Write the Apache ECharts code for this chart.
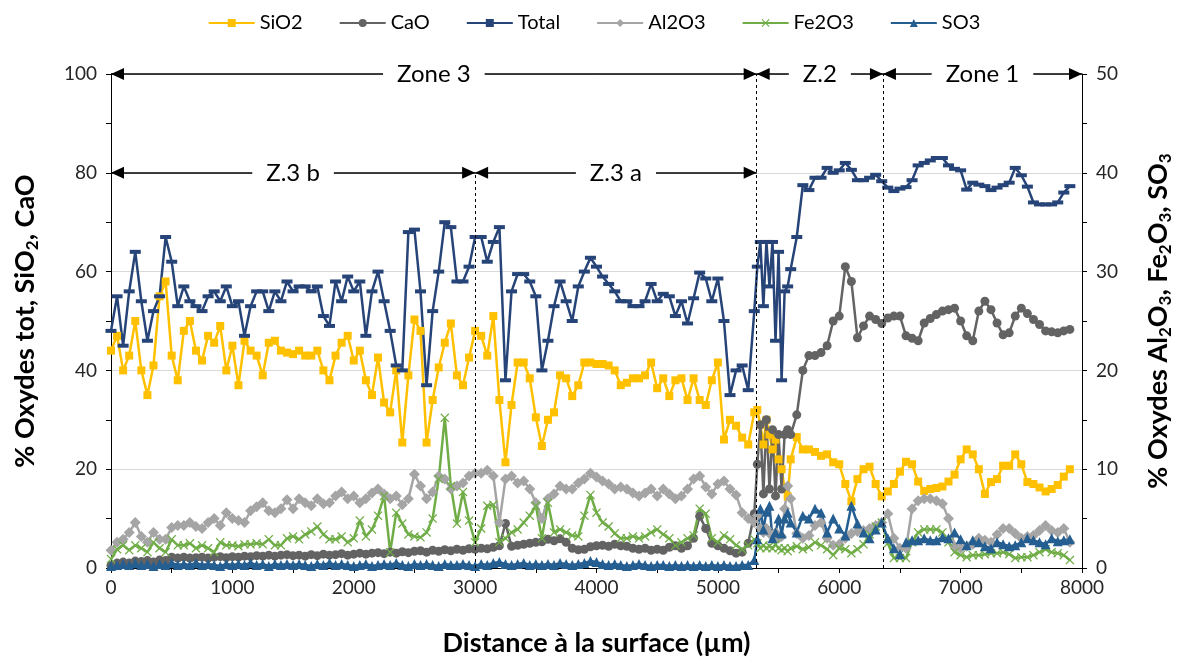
<!DOCTYPE html>
<html lang="fr">
<head>
  <meta charset="UTF-8">
  <title>Profil des oxydes</title>
  <script src="https://cdn.jsdelivr.net/npm/echarts@6/dist/echarts.min.js"></script>
  <style>
    html, body { margin: 0; padding: 0; background: #fff; }
    #chart { width: 1188px; height: 662px; }
  </style>
</head>
<body>
  <div id="chart"></div>
  <script>
    // distance à la surface (µm) : zone 3, puis zone 2, puis zone 1
    var dist = [
      0, 50, 100, 150, 200, 250, 300, 350, 400, 450, 500,
      550, 600, 650, 700, 750, 800, 850, 900, 950, 1000,
      1050, 1100, 1150, 1200, 1250, 1300, 1350, 1400, 1450, 1500,
      1550, 1600, 1650, 1700, 1750, 1800, 1850, 1900, 1950, 2000,
      2050, 2100, 2150, 2200, 2250, 2300, 2350, 2400, 2450, 2500,
      2550, 2600, 2650, 2700, 2750, 2800, 2850, 2900, 2950, 3000,
      3050, 3100, 3150, 3200, 3250, 3300, 3350, 3400, 3450, 3500,
      3550, 3600, 3650, 3700, 3750, 3800, 3850, 3900, 3950, 4000,
      4050, 4100, 4150, 4200, 4250, 4300, 4350, 4400, 4450, 4500,
      4550, 4600, 4650, 4700, 4750, 4800, 4850, 4900, 4950, 5000,
      5050, 5100, 5150, 5200, 5250, 5300,
      5325, 5350, 5375, 5400, 5425, 5450, 5475, 5500, 5525, 5550, 5575, 5600, 5650, 5700,
      5750, 5800, 5850, 5900, 5950, 6000, 6050, 6100, 6150, 6200, 6250, 6300, 6350,
      6400, 6450, 6500, 6550, 6600, 6650, 6700, 6750, 6800, 6850, 6900, 6950, 7000, 7050, 7100, 7150,
      7200, 7250, 7300, 7350, 7400, 7450, 7500, 7550, 7600, 7650, 7700, 7750, 7800, 7850, 7900
    ];

    // axe de gauche (%)
    var sio2 = [
      44, 47, 40, 43, 50, 40, 35, 41, 55, 58, 43,
      38, 48, 50, 44, 42, 47, 45.6, 49, 40, 45,
      37, 46, 44, 43, 39, 45.6, 46, 44, 43.6, 43.3,
      44, 43, 43, 44, 40, 38, 43, 45.6, 47, 42,
      44, 38, 35, 42.6, 33.5, 31.5, 40, 25.4, 39, 50.3,
      48, 25.4, 34, 40.6, 45.6, 49.5, 39, 37, 42.6, 48,
      47, 43, 51, 34, 21.4, 33, 41.6, 41.6, 38.4, 30.5,
      24.7, 30, 31.5, 39, 38.4, 34.8, 37, 41.6, 41.6, 41.3,
      41.3, 41, 40, 37, 37.5, 38.4, 38.4, 39, 41.6, 36.4,
      38.4, 34.8, 38, 38.4, 34, 38.4, 34, 33, 38, 41.6,
      26, 30, 28.8, 26.4, 25, 31.5,
      32, 29, 25, 30, 27, 24, 26, 22, 20, 16, 14.5, 22, 26.5, 24,
      24, 23.5, 22.7, 23, 21.4, 21, 17, 13.5, 18, 20, 20.5, 17, 14.5,
      15.5, 17, 19.5, 21.5, 21, 17.5, 15.6, 16, 16.2, 16.5, 17.5, 18.9, 22, 24, 23, 20,
      15, 17.4, 18, 20.7, 20.7, 23, 21, 17.4, 17, 16.3, 15.5, 16, 16.8, 18.5, 20
    ];
    var cao = [
      0.5, 1.0, 1.2, 1.0, 1.4, 1.3, 1.5, 1.2, 1.6, 1.5, 2.2,
      2.0, 2.2, 2.0, 2.1, 2.2, 2.0, 2.2, 2.3, 2.1, 2.3,
      2.2, 2.4, 2.3, 2.5, 2.4, 2.6, 2.4, 2.6, 2.7, 2.5,
      2.6, 2.4, 2.7, 2.5, 2.8, 2.6, 2.7, 2.9, 2.6, 2.8,
      3.0, 2.8, 3.0, 3.1, 2.9, 3.2, 3.0, 3.3, 3.1, 3.4,
      3.5, 3.2, 3.6, 3.4, 3.7, 3.5, 3.8, 3.6, 3.9, 3.8,
      4.0, 3.9, 4.2, 4.5, 9.0, 4.4, 4.6, 4.8, 5.0, 5.2,
      5.3, 5.8, 5.5, 5.9, 5.2, 4.0, 3.7, 3.8, 4.3, 4.5,
      4.6, 4.4, 4.8, 4.5, 4.4, 4.0, 3.8, 4.0, 3.6, 3.8,
      3.6, 4.2, 4.5, 4.0, 4.5, 6.0, 10.5, 8.0, 5.0, 4.5,
      4.0, 3.5, 3.0, 3.2, 5.0, 11.0,
      21, 29, 15, 30, 16, 28, 14.6, 27, 16, 27, 28, 27, 31, 40,
      43, 43, 43.6, 45, 50, 51, 61, 58, 46.6, 49, 51, 50.3, 49.5,
      50.6, 51, 51, 47, 46.5, 46, 49.6, 50.5, 51.3, 52, 52.3, 52.6, 50, 47, 46, 52,
      54, 52.3, 49.6, 47.2, 47.6, 51, 52.6, 51.5, 50.3, 49.3, 48, 47.8, 47.6, 48, 48.3
    ];
    var total = [
      48, 55, 45, 56, 64, 54, 46, 52, 55, 67, 62,
      53, 57, 54, 53, 52, 55, 56, 54, 57, 53,
      54, 47, 53, 56, 56, 52, 56, 54, 58, 56,
      57, 57, 56, 57, 51, 49, 58, 54, 59, 56,
      58, 47, 56, 60, 54, 48, 41, 40, 68, 68.5,
      56, 37, 52, 60, 70, 69, 58, 58, 61, 67,
      67, 62, 66, 69, 38, 56, 59.5, 59.5, 58, 55,
      40, 46, 53, 58, 54, 50, 57, 60, 62.8, 61,
      59, 57.5, 56, 54, 54, 53, 53, 54, 57.5, 54,
      55.5, 55, 51, 54, 49.5, 54.6, 59.8, 58.6, 54, 58.6,
      50, 35, 40, 41, 36, 52,
      61, 66, 53, 66, 57, 66, 46, 64, 38, 56, 57, 60.5, 67, 77.5,
      76.5, 79, 79, 81, 80, 80.5, 82, 80.6, 78.5, 78.5, 79, 79.6, 78.3,
      77, 76.3, 76.8, 77.1, 78.5, 81.5, 82, 82.5, 83, 83, 81.5, 80.8, 80.5, 76.6, 78, 77.6,
      77.3, 76.5, 77, 77.5, 78, 81, 79.5, 77.2, 74, 73.6, 73.6, 73.6, 74, 76, 77.3
    ];

    // axe de droite (%)
    var al2o3 = [
      1.8, 2.6, 2.9, 3.6, 4.6, 3.2, 2.6, 3.6, 2.9, 2.9, 4.1,
      4.3, 4.3, 4.6, 4.2, 4.0, 4.6, 5.0, 4.3, 5.6, 5.0,
      4.8, 4.6, 5.8, 6.2, 6.6, 5.8, 5.6, 6.0, 6.9, 6.0,
      7.0, 6.6, 6.3, 7.0, 6.5, 6.6, 7.3, 7.7, 7.0, 7.3,
      6.6, 7.0, 7.6, 8.0, 7.5, 7.0, 7.3, 6.4, 7.0, 9.5,
      8.3, 7.0, 7.7, 9.3, 9.0, 8.0, 8.3, 8.6, 9.3, 9.6,
      9.6, 9.9, 9.3, 4.6, 9.0, 9.3, 8.6, 8.8, 8.0, 6.6,
      5.0, 7.0, 7.5, 8.3, 8.0, 8.0, 8.6, 9.0, 9.6, 9.2,
      8.8, 8.5, 8.0, 8.2, 8.0, 7.6, 7.3, 7.6, 8.0, 7.3,
      8.0, 7.5, 7.0, 7.3, 8.0, 9.0, 9.3, 8.2, 7.5, 8.5,
      8.8, 8.0, 7.4, 5.6, 5.0, 4.6,
      5.3, 4.0, 3.6, 4.0, 3.5, 3.3, 3.6, 3.0, 3.2, 6.0, 8.3, 7.0, 3.5, 3.0,
      3.3, 4.3, 4.6, 3.0, 2.3, 2.4, 3.0, 3.5, 3.7, 3.8, 4.0, 4.3, 4.6,
      5.5, 3.0, 2.0, 2.0, 6.0, 6.8, 7.0, 7.0, 6.8, 6.5, 5.0, 2.2, 2.0, 2.2, 2.4, 3.0,
      2.8, 2.6, 3.4, 4.0, 4.0, 3.5, 3.0, 3.2, 3.3, 3.8, 4.3, 3.8, 3.6, 4.0, 2.6
    ];
    var fe2o3 = [
      0.9, 1.9, 2.3, 1.8, 2.3, 2.0, 1.6, 2.6, 2.0, 1.6, 2.9,
      2.3, 2.3, 2.5, 2.0, 2.3, 2.0, 1.6, 2.6, 2.3, 2.3,
      2.2, 2.4, 2.4, 2.5, 2.4, 2.9, 2.3, 2.3, 3.0, 3.2,
      2.9, 3.4, 3.7, 4.2, 3.4, 2.9, 2.9, 3.2, 2.6, 3.0,
      4.8, 3.2, 3.9, 5.3, 7.3, 1.6, 5.6, 4.5, 3.4, 3.2,
      3.1, 3.6, 5.0, 9.0, 15.2, 8.3, 4.5, 7.7, 4.8, 2.6,
      4.0, 6.3, 6.4, 2.6, 3.0, 3.6, 3.9, 4.6, 5.3, 6.3,
      3.0, 6.6, 3.6, 3.9, 3.6, 3.3, 3.2, 5.3, 7.4, 5.6,
      4.6, 4.2, 3.5, 3.0, 3.0, 3.2, 3.0, 3.2, 3.6, 3.9,
      3.4, 3.0, 2.3, 2.6, 3.0, 3.3, 6.0, 5.5, 3.0, 2.6,
      3.3, 2.9, 2.3, 1.9, 2.3, 2.9,
      2.5, 2.0, 2.3, 2.0, 2.2, 2.0, 2.4, 2.0, 1.8, 2.0, 1.7, 2.0, 2.2, 1.9,
      2.1, 2.6, 2.3, 1.9, 1.3, 2.0, 1.9, 1.5, 1.9, 2.4, 3.4, 4.2, 4.6,
      2.5, 1.0, 1.0, 1.0, 2.6, 3.6, 3.9, 3.9, 3.9, 3.6, 2.6, 1.6, 1.3, 1.1, 1.3, 1.3,
      1.4, 1.5, 1.5, 1.6, 1.4, 1.0, 1.1, 1.1, 1.3, 1.6, 1.9, 1.6, 1.5, 1.3, 0.8
    ];
    var so3 = [
      0.2, 0.3, 0.4, 0.3, 0.5, 0.3, 0.4, 0.2, 0.4, 0.3, 0.5,
      0.3, 0.4, 0.3, 0.5, 0.3, 0.4, 0.3, 0.2, 0.4, 0.3,
      0.4, 0.3, 0.5, 0.3, 0.4, 0.2, 0.4, 0.3, 0.4, 0.3,
      0.4, 0.3, 0.2, 0.4, 0.3, 0.5, 0.3, 0.4, 0.3, 0.2,
      0.3, 0.4, 0.2, 0.3, 0.4, 0.3, 0.5, 0.3, 0.2, 0.4,
      0.3, 0.4, 0.3, 0.2, 0.4, 0.3, 0.3, 0.4, 0.3, 0.2,
      0.4, 0.3, 0.5, 0.6, 0.4, 0.3, 0.4, 0.5, 0.3, 0.4,
      0.3, 0.4, 0.3, 0.5, 0.4, 0.3, 0.4, 0.5, 0.7, 0.6,
      0.4, 0.3, 0.4, 0.3, 0.2, 0.3, 0.4, 0.3, 0.2, 0.3,
      0.3, 0.2, 0.3, 0.2, 0.3, 0.2, 0.3, 0.2, 0.3, 0.2,
      0.3, 0.2, 0.2, 0.3, 0.3, 0.8,
      2.9, 6.0, 3.9, 5.7, 6.3, 3.0, 3.6, 5.0, 3.5, 5.0, 5.6, 4.6, 3.6, 5.3,
      5.0, 6.0, 5.6, 3.6, 5.0, 4.0, 3.3, 6.3, 4.5, 3.6, 3.0, 3.9, 4.6,
      3.0, 2.0, 1.4, 2.6, 2.8, 2.8, 3.0, 2.8, 2.8, 3.1, 3.0, 3.6, 2.9, 2.3, 2.8, 2.6,
      2.2, 2.0, 2.6, 2.4, 2.2, 2.3, 2.6, 3.0, 2.8, 2.6, 2.4, 3.0, 2.7, 2.8, 2.9
    ];

    // zones : [début, fin, niveau, nom] et limites verticales [x, hauteur]
    var zoneArrows = [
      [0, 5320, 100, 'Zone 3'],
      [5320, 6360, 100, 'Z.2'],
      [6360, 8000, 100, 'Zone 1'],
      [0, 3000, 80, 'Z.3 b'],
      [3000, 5320, 80, 'Z.3 a']
    ];
    var zoneBorders = [[5320, 100], [6360, 100], [3000, 80]];

    var FONT = 'Lato, "Open Sans", sans-serif';
    var crossPath = 'path://M0,1 L1,0 L5,4 L9,0 L10,1 L6,5 L10,9 L9,10 L5,6 L1,10 L0,9 L4,5 Z';

    function pairs(vals) {
      return dist.map(function (d, i) { return [d, vals[i]]; });
    }

    function lineSeries(name, vals, axis, color, symbol, size) {
      return {
        name: name, type: 'line', yAxisIndex: axis,
        data: pairs(vals),
        symbol: symbol, symbolSize: size, showAllSymbol: true,
        lineStyle: { color: color, width: 2.5 },
        itemStyle: { color: color, borderWidth: 0 },
        emphasis: { disabled: true }
      };
    }

    var titleRich = {
      t: { fontSize: 27, fontWeight: 'bold', color: '#000', fontFamily: FONT, lineHeight: 32 },
      s: { fontSize: 17, fontWeight: 'bold', color: '#000', fontFamily: FONT, lineHeight: 17, verticalAlign: 'bottom' }
    };

    var chart = echarts.init(document.getElementById('chart'));
    chart.setOption({
      animation: false,
      backgroundColor: '#fff',
      textStyle: { fontFamily: FONT },
      legend: {
        top: 8, left: 'center',
        itemWidth: 46, itemHeight: 10, itemGap: 36,
        data: ['SiO2', 'CaO', 'Total', 'Al2O3', 'Fe2O3', 'SO3'],
        textStyle: { fontSize: 20, color: '#000', fontFamily: FONT }
      },
      grid: { left: 111, right: 106, top: 74, bottom: 93 },
      xAxis: {
        type: 'value', min: 0, max: 8000, interval: 1000,
        name: 'Distance à la surface (µm)', nameLocation: 'middle', nameGap: 62,
        nameTextStyle: { fontSize: 27, fontWeight: 'bold', color: '#000', fontFamily: FONT },
        axisLine: { show: true, lineStyle: { color: '#000', width: 1 } },
        axisTick: { show: true, length: 5, lineStyle: { color: '#000' } },
        minorTick: { show: true, splitNumber: 2, length: 5, lineStyle: { color: '#000' } },
        splitLine: { show: false },
        axisLabel: {
          fontSize: 19, color: '#262626', margin: 10, fontFamily: FONT,
          formatter: function (v) { return String(v); }
        }
      },
      yAxis: [{
        type: 'value', min: 0, max: 100, interval: 20, position: 'left',
        name: '{t|% Oxydes tot, SiO}{s|2}{t|, CaO}',
        nameLocation: 'middle', nameRotate: 90, nameGap: 70,
        nameTextStyle: { rich: titleRich },
        axisLine: { show: true, lineStyle: { color: '#000', width: 1 } },
        axisTick: { show: true, length: 5, lineStyle: { color: '#000' } },
        minorTick: { show: true, splitNumber: 2, length: 5, lineStyle: { color: '#000' } },
        splitLine: { show: true, lineStyle: { color: '#d9d9d9', width: 1 } },
        axisLabel: { fontSize: 19, color: '#262626', margin: 14, fontFamily: FONT }
      }, {
        type: 'value', min: 0, max: 50, interval: 10, position: 'right',
        name: '{t|% Oxydes Al}{s|2}{t|O}{s|3}{t|, Fe}{s|2}{t|O}{s|3}{t|, SO}{s|3}',
        nameLocation: 'middle', nameRotate: 90, nameGap: 60,
        nameTextStyle: { rich: titleRich },
        axisLine: { show: true, lineStyle: { color: '#000', width: 1 } },
        axisTick: { show: true, length: 5, lineStyle: { color: '#000' } },
        minorTick: { show: true, splitNumber: 2, length: 5, lineStyle: { color: '#000' } },
        splitLine: { show: false },
        axisLabel: { fontSize: 19, color: '#262626', margin: 14, fontFamily: FONT }
      }],
      series: [
        lineSeries('SiO2', sio2, 0, '#ffc000', 'rect', 8),
        lineSeries('CaO', cao, 0, '#636363', 'circle', 9),
        lineSeries('Total', total, 0, '#264478', 'rect', [11, 4]),
        lineSeries('Al2O3', al2o3, 1, '#a5a5a5', 'diamond', 11),
        lineSeries('Fe2O3', fe2o3, 1, '#70ad47', crossPath, 9),
        lineSeries('SO3', so3, 1, '#255e91', 'triangle', 10),
        {
          name: 'limites', type: 'line', yAxisIndex: 0, data: [], silent: true,
          markLine: {
            silent: true, symbol: 'none', animation: false,
            lineStyle: { color: '#000', width: 1, type: [3, 3] },
            label: { show: false },
            data: zoneBorders.map(function (b) {
              return [{ coord: [b[0], 0] }, { coord: [b[0], b[1]] }];
            })
          }
        },
        {
          name: 'zones', type: 'line', yAxisIndex: 0, data: [], silent: true,
          markLine: {
            silent: true, animation: false,
            symbol: ['triangle', 'triangle'], symbolSize: [12, 13],
            symbolOffset: [[0, 6.5], [0, 6.5]],
            lineStyle: { color: '#000', width: 1.5, type: 'solid' },
            label: {
              show: true, position: 'middle', formatter: '{b}',
              distance: 0, align: 'center', verticalAlign: 'middle',
              backgroundColor: '#fff', padding: [2, 14],
              fontSize: 24, color: '#000', fontFamily: FONT
            },
            data: zoneArrows.map(function (z) {
              return [{ coord: [z[0], z[2]], name: z[3] }, { coord: [z[1], z[2]] }];
            })
          }
        }
      ]
    });
  </script>
</body>
</html>
